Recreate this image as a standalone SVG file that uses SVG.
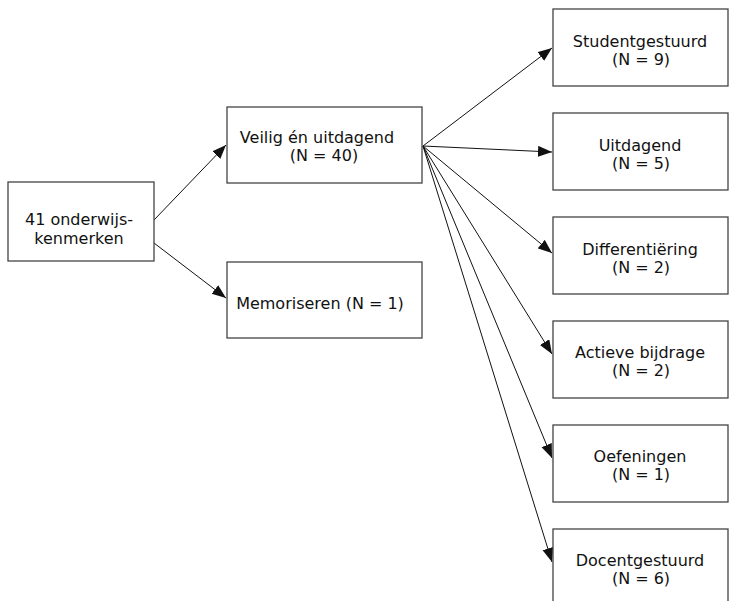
<svg xmlns="http://www.w3.org/2000/svg" width="729" height="601" viewBox="0 0 729 601">
<style>
.box{fill:#fff;stroke:#444;stroke-width:1.3}
.t{font-family:"DejaVu Sans","Noto Sans",sans-serif;font-size:16px;fill:#111;text-anchor:middle}
.c{stroke:#111;stroke-width:1;fill:none;marker-end:url(#ah)}
</style>
<defs>
<marker id="ah" markerWidth="15" markerHeight="12" refX="14" refY="5.5" orient="auto" markerUnits="userSpaceOnUse">
<path d="M0,0 L14,5.5 L0,11 Z" fill="#111"/>
</marker>
</defs>
<rect width="729" height="601" fill="#fff"/>
<g id="connectors">
<line class="c" x1="154" y1="220" x2="226" y2="145"/>
<line class="c" x1="154" y1="243" x2="226" y2="298"/>
<line class="c" x1="423" y1="146" x2="552" y2="48"/>
<line class="c" x1="423" y1="146" x2="552" y2="152"/>
<line class="c" x1="423" y1="146" x2="552" y2="253"/>
<line class="c" x1="423" y1="146" x2="552" y2="354"/>
<line class="c" x1="423" y1="146" x2="552" y2="458"/>
<line class="c" x1="423" y1="146" x2="552" y2="562"/>
</g>
<g id="n-root">
<rect class="box" x="8" y="182" width="146" height="79"/>
<text class="t" x="79" y="225">41 onderwijs-</text>
<text class="t" x="79" y="244">kenmerken</text>
</g>
<g id="n-veilig">
<rect class="box" x="227" y="107" width="195" height="76"/>
<text class="t" x="317" y="143">Veilig én uitdagend</text>
<text class="t" x="324" y="161">(N = 40)</text>
</g>
<g id="n-memoriseren">
<rect class="box" x="227" y="262" width="195" height="76"/>
<text class="t" x="320" y="309">Memoriseren (N = 1)</text>
</g>
<g id="n-studentgestuurd">
<rect class="box" x="553" y="9" width="175" height="77"/>
<text class="t" x="640" y="47">Studentgestuurd</text>
<text class="t" x="641" y="65">(N = 9)</text>
</g>
<g id="n-uitdagend">
<rect class="box" x="553" y="113" width="175" height="77"/>
<text class="t" x="640" y="151">Uitdagend</text>
<text class="t" x="641" y="169">(N = 5)</text>
</g>
<g id="n-differentiering">
<rect class="box" x="553" y="217" width="175" height="77"/>
<text class="t" x="640" y="255">Differentiëring</text>
<text class="t" x="641" y="273">(N = 2)</text>
</g>
<g id="n-actieve">
<rect class="box" x="553" y="321" width="175" height="77"/>
<text class="t" x="640" y="358">Actieve bijdrage</text>
<text class="t" x="641" y="376">(N = 2)</text>
</g>
<g id="n-oefeningen">
<rect class="box" x="553" y="425" width="175" height="77"/>
<text class="t" x="640" y="462">Oefeningen</text>
<text class="t" x="641" y="480">(N = 1)</text>
</g>
<g id="n-docentgestuurd">
<rect class="box" x="553" y="529" width="175" height="77"/>
<text class="t" x="640" y="566">Docentgestuurd</text>
<text class="t" x="641" y="584">(N = 6)</text>
</g>
</svg>
